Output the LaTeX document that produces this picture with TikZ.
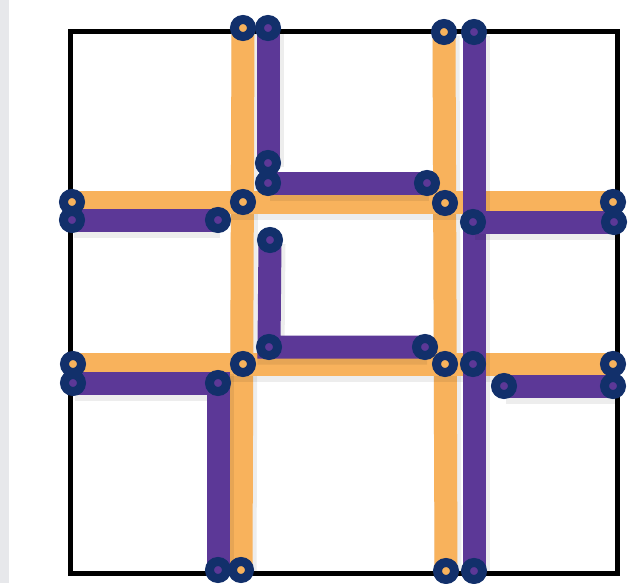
\documentclass[tikz,border=0pt]{standalone}
\usetikzlibrary{backgrounds}
\definecolor{barorange}{HTML}{F8B25C}
\definecolor{barpurple}{HTML}{5C3897}
\definecolor{ringnavy}{HTML}{12306B}
\definecolor{stripgray}{HTML}{E7E8EB}

\begin{document}
\begin{tikzpicture}[x=1pt, y=-1pt,
ring/.style={circle, draw=ringnavy, line width=9pt, minimum size=17pt, inner sep=0pt},
oring/.style={ring, fill=barorange},
pring/.style={ring, fill=barpurple},
bar/.style={line width=23pt, line join=miter, preaction={draw=black, draw opacity=0.07, line width=27pt, transform canvas={shift={(2pt,-4pt)}}}},
obar/.style={bar, draw=barorange},
pbar/.style={bar, draw=barpurple}
]
\useasboundingbox (0,0) rectangle (631,583);

% orange rings
\node (oA1) [oring] at (243,28) {};
\node (oA2) [oring] at (243,202) {};
\node (oA3) [oring] at (243,364) {};
\node (oA4) [oring] at (241,570) {};
\node (oB1) [oring] at (444,32) {};
\node (oB2) [oring] at (445,203) {};
\node (oB3) [oring] at (445,364) {};
\node (oB4) [oring] at (446,571) {};
\node (oL1) [oring] at (72,202) {};
\node (oR1) [oring] at (613,202) {};
\node (oL2) [oring] at (73,364) {};
\node (oR2) [oring] at (613,364) {};

% purple rings
\node (pA1) [pring] at (268,28) {};
\node (pA2) [pring] at (268,163) {};
\node (pA3) [pring] at (268,183) {};
\node (pA4) [pring] at (427,183) {};
\node (pL1) [pring] at (72,220) {};
\node (pL1e) [pring] at (218,220) {};
\node (pB1) [pring] at (474,32) {};
\node (pB2) [pring] at (473,222) {};
\node (pB3) [pring] at (473,364) {};
\node (pB4) [pring] at (474,571) {};
\node (pR1) [pring] at (614,222) {};
\node (pC1) [pring] at (270,240) {};
\node (pC2) [pring] at (269,347) {};
\node (pC3) [pring] at (425,347) {};
\node (pL2) [pring] at (73,383) {};
\node (pD1) [pring] at (218,383) {};
\node (pD2) [pring] at (218,570) {};
\node (pE1) [pring] at (504,386) {};
\node (pR2) [pring] at (613,386) {};

\begin{pgfonlayer}{background}
\fill [stripgray] (0,0) rectangle (9,583);
\draw [line width=5pt] (70,32) rectangle (617,573);

\draw [obar] (oA1.center) -- (oA4.center);
\draw [obar] (oB1.center) -- (oB4.center);
\draw [obar] (oL1.center) -- (oR1.center);
\draw [obar] (oL2.center) -- (oR2.center);

\draw [pbar] (pA1.center) -- (pA2.center);
\draw [pbar] (pA3.center) -- (pA4.center);
\draw [pbar] (pL1.center) -- (pL1e.center);
\draw [pbar] (pB1.center) -- (pB4.center);
\draw [pbar] (pB2.center) -- (pR1.center);
\draw [pbar] (pC1.center) -- (pC2.center) -- (pC3.center);
\draw [pbar] (pL2.center) -- (pD1.center) -- (pD2.center);
\draw [pbar] (pE1.center) -- (pR2.center);
\end{pgfonlayer}
\end{tikzpicture}
\end{document}
